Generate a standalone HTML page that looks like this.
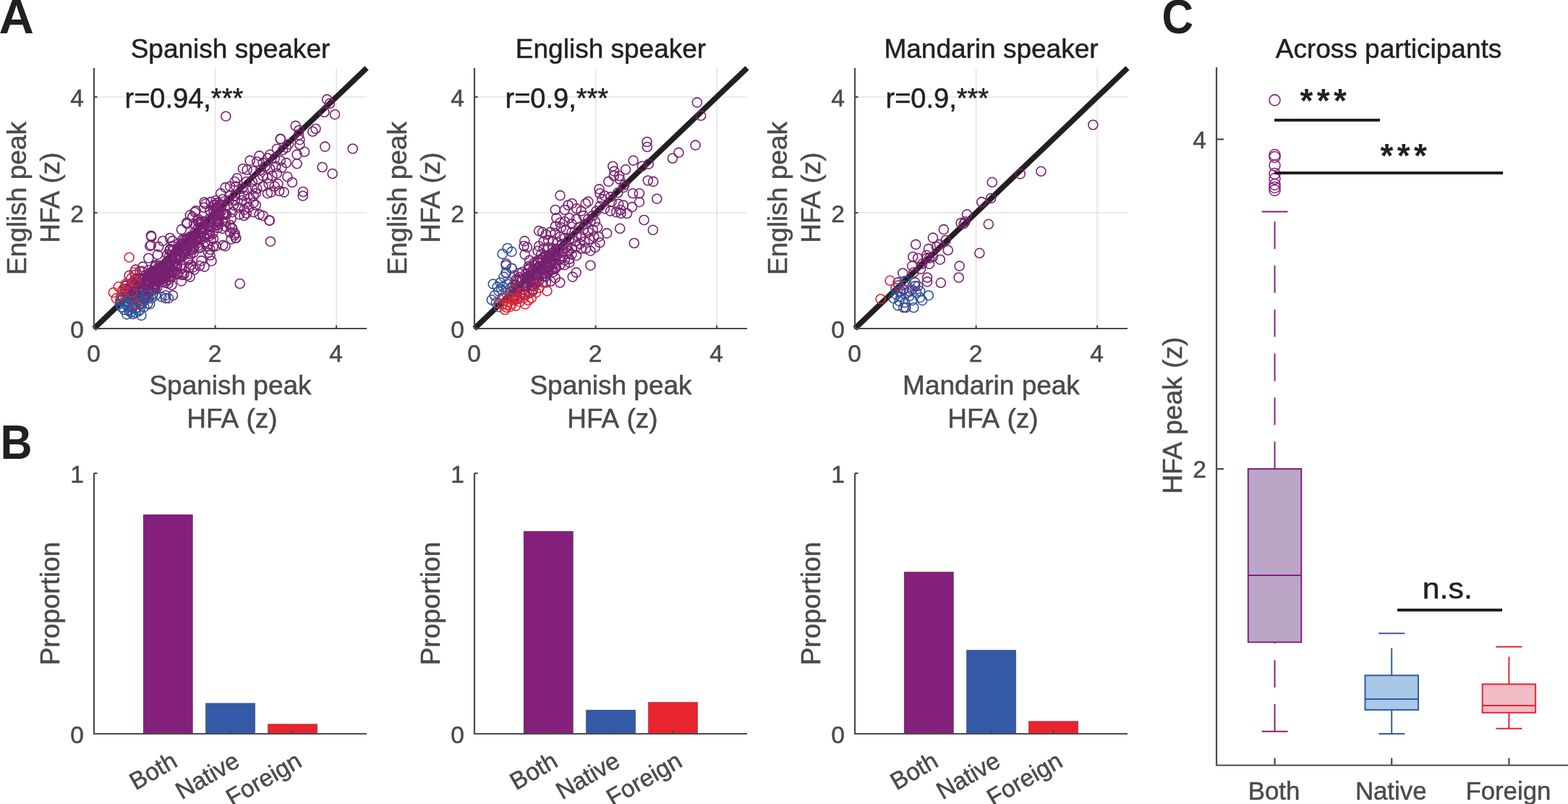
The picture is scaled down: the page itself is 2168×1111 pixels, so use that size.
<!DOCTYPE html>
<html><head><meta charset="utf-8"><title>Figure</title>
<style>html,body{margin:0;padding:0;background:#fff;overflow:hidden}svg{display:block}</style>
</head><body>
<svg width="2168" height="1111" viewBox="0 0 2168 1111" font-family="'Liberation Sans', Arial, Helvetica, sans-serif">
<rect width="2168" height="1111" fill="#fff"/>
<line x1="297.6" y1="94" x2="297.6" y2="454" stroke="#e4e4e4" stroke-width="1.6"/>
<line x1="130" y1="294.0" x2="507" y2="294.0" stroke="#e4e4e4" stroke-width="1.6"/>
<line x1="465.1" y1="94" x2="465.1" y2="454" stroke="#e4e4e4" stroke-width="1.6"/>
<line x1="130" y1="134.0" x2="507" y2="134.0" stroke="#e4e4e4" stroke-width="1.6"/>
<line x1="130" y1="454" x2="507" y2="94" stroke="#231f20" stroke-width="7.6"/>
<g fill="none" stroke="#782170" stroke-width="1.6"><circle cx="245.0" cy="367.5" r="6.5"/><circle cx="253.5" cy="352.6" r="6.5"/><circle cx="205.7" cy="411.1" r="6.5"/><circle cx="288.1" cy="349.1" r="6.5"/><circle cx="267.4" cy="334.5" r="6.5"/><circle cx="253.6" cy="349.7" r="6.5"/><circle cx="173.9" cy="395.3" r="6.5"/><circle cx="238.5" cy="339.8" r="6.5"/><circle cx="262.6" cy="382.6" r="6.5"/><circle cx="222.1" cy="373.9" r="6.5"/><circle cx="282.6" cy="326.9" r="6.5"/><circle cx="184.8" cy="422.6" r="6.5"/><circle cx="319.8" cy="302.0" r="6.5"/><circle cx="289.4" cy="323.4" r="6.5"/><circle cx="198.1" cy="401.1" r="6.5"/><circle cx="277.2" cy="310.4" r="6.5"/><circle cx="214.9" cy="395.1" r="6.5"/><circle cx="198.9" cy="399.0" r="6.5"/><circle cx="210.4" cy="397.8" r="6.5"/><circle cx="206.4" cy="391.3" r="6.5"/><circle cx="228.8" cy="384.1" r="6.5"/><circle cx="209.2" cy="376.6" r="6.5"/><circle cx="211.7" cy="405.8" r="6.5"/><circle cx="204.9" cy="388.8" r="6.5"/><circle cx="254.3" cy="379.2" r="6.5"/><circle cx="216.4" cy="379.3" r="6.5"/><circle cx="267.8" cy="342.7" r="6.5"/><circle cx="174.6" cy="394.2" r="6.5"/><circle cx="264.1" cy="344.3" r="6.5"/><circle cx="180.3" cy="409.2" r="6.5"/><circle cx="199.3" cy="389.6" r="6.5"/><circle cx="273.0" cy="330.4" r="6.5"/><circle cx="169.9" cy="412.7" r="6.5"/><circle cx="172.4" cy="399.1" r="6.5"/><circle cx="182.5" cy="409.3" r="6.5"/><circle cx="234.1" cy="386.4" r="6.5"/><circle cx="252.4" cy="330.9" r="6.5"/><circle cx="204.3" cy="419.6" r="6.5"/><circle cx="271.4" cy="327.8" r="6.5"/><circle cx="200.8" cy="412.9" r="6.5"/><circle cx="237.7" cy="355.6" r="6.5"/><circle cx="214.7" cy="375.4" r="6.5"/><circle cx="212.6" cy="400.5" r="6.5"/><circle cx="228.4" cy="373.9" r="6.5"/><circle cx="289.8" cy="302.2" r="6.5"/><circle cx="200.0" cy="409.3" r="6.5"/><circle cx="212.1" cy="374.0" r="6.5"/><circle cx="200.2" cy="384.1" r="6.5"/><circle cx="311.5" cy="295.5" r="6.5"/><circle cx="289.3" cy="308.5" r="6.5"/><circle cx="224.6" cy="380.1" r="6.5"/><circle cx="240.5" cy="362.9" r="6.5"/><circle cx="191.2" cy="393.5" r="6.5"/><circle cx="266.4" cy="325.7" r="6.5"/><circle cx="178.7" cy="413.3" r="6.5"/><circle cx="209.9" cy="381.0" r="6.5"/><circle cx="307.6" cy="315.9" r="6.5"/><circle cx="182.1" cy="391.0" r="6.5"/><circle cx="234.9" cy="380.9" r="6.5"/><circle cx="300.4" cy="297.4" r="6.5"/><circle cx="300.9" cy="315.0" r="6.5"/><circle cx="244.2" cy="356.4" r="6.5"/><circle cx="283.9" cy="305.7" r="6.5"/><circle cx="187.2" cy="385.6" r="6.5"/><circle cx="310.3" cy="296.5" r="6.5"/><circle cx="210.3" cy="375.4" r="6.5"/><circle cx="224.1" cy="389.7" r="6.5"/><circle cx="214.9" cy="398.0" r="6.5"/><circle cx="247.0" cy="336.3" r="6.5"/><circle cx="267.2" cy="349.5" r="6.5"/><circle cx="252.4" cy="345.3" r="6.5"/><circle cx="264.2" cy="366.0" r="6.5"/><circle cx="222.8" cy="384.6" r="6.5"/><circle cx="250.1" cy="356.0" r="6.5"/><circle cx="301.8" cy="302.0" r="6.5"/><circle cx="200.9" cy="390.0" r="6.5"/><circle cx="238.5" cy="377.4" r="6.5"/><circle cx="198.1" cy="397.2" r="6.5"/><circle cx="247.2" cy="341.9" r="6.5"/><circle cx="256.6" cy="348.7" r="6.5"/><circle cx="266.6" cy="345.1" r="6.5"/><circle cx="287.0" cy="313.6" r="6.5"/><circle cx="299.2" cy="291.6" r="6.5"/><circle cx="302.6" cy="302.1" r="6.5"/><circle cx="215.1" cy="388.6" r="6.5"/><circle cx="278.4" cy="306.1" r="6.5"/><circle cx="170.3" cy="410.6" r="6.5"/><circle cx="296.2" cy="283.7" r="6.5"/><circle cx="248.4" cy="352.7" r="6.5"/><circle cx="185.2" cy="393.7" r="6.5"/><circle cx="258.7" cy="344.9" r="6.5"/><circle cx="320.5" cy="315.1" r="6.5"/><circle cx="215.7" cy="366.7" r="6.5"/><circle cx="250.0" cy="341.4" r="6.5"/><circle cx="200.5" cy="394.1" r="6.5"/><circle cx="204.5" cy="388.9" r="6.5"/><circle cx="254.5" cy="332.0" r="6.5"/><circle cx="295.0" cy="330.0" r="6.5"/><circle cx="279.5" cy="321.2" r="6.5"/><circle cx="231.6" cy="379.0" r="6.5"/><circle cx="273.2" cy="331.6" r="6.5"/><circle cx="260.0" cy="330.6" r="6.5"/><circle cx="260.1" cy="359.5" r="6.5"/><circle cx="297.9" cy="288.4" r="6.5"/><circle cx="218.7" cy="386.7" r="6.5"/><circle cx="235.9" cy="362.2" r="6.5"/><circle cx="260.4" cy="356.9" r="6.5"/><circle cx="274.6" cy="307.7" r="6.5"/><circle cx="192.9" cy="410.4" r="6.5"/><circle cx="199.9" cy="392.0" r="6.5"/><circle cx="295.1" cy="289.5" r="6.5"/><circle cx="220.3" cy="367.0" r="6.5"/><circle cx="217.6" cy="378.6" r="6.5"/><circle cx="222.7" cy="387.1" r="6.5"/><circle cx="294.6" cy="340.8" r="6.5"/><circle cx="184.1" cy="396.1" r="6.5"/><circle cx="291.6" cy="279.1" r="6.5"/><circle cx="287.1" cy="339.9" r="6.5"/><circle cx="252.1" cy="336.7" r="6.5"/><circle cx="203.2" cy="385.7" r="6.5"/><circle cx="234.0" cy="353.9" r="6.5"/><circle cx="254.8" cy="347.8" r="6.5"/><circle cx="291.8" cy="332.4" r="6.5"/><circle cx="220.5" cy="369.6" r="6.5"/><circle cx="256.3" cy="343.7" r="6.5"/><circle cx="187.3" cy="405.3" r="6.5"/><circle cx="259.4" cy="335.5" r="6.5"/><circle cx="181.0" cy="394.8" r="6.5"/><circle cx="233.4" cy="367.7" r="6.5"/><circle cx="189.4" cy="412.2" r="6.5"/><circle cx="277.9" cy="314.2" r="6.5"/><circle cx="268.0" cy="309.3" r="6.5"/><circle cx="216.0" cy="380.0" r="6.5"/><circle cx="251.2" cy="370.9" r="6.5"/><circle cx="181.8" cy="397.9" r="6.5"/><circle cx="269.7" cy="331.9" r="6.5"/><circle cx="214.4" cy="392.3" r="6.5"/><circle cx="214.2" cy="368.7" r="6.5"/><circle cx="222.4" cy="370.3" r="6.5"/><circle cx="300.1" cy="306.8" r="6.5"/><circle cx="232.6" cy="391.8" r="6.5"/><circle cx="210.6" cy="377.1" r="6.5"/><circle cx="238.7" cy="365.7" r="6.5"/><circle cx="286.5" cy="324.6" r="6.5"/><circle cx="205.7" cy="398.3" r="6.5"/><circle cx="173.4" cy="403.1" r="6.5"/><circle cx="273.2" cy="304.9" r="6.5"/><circle cx="183.6" cy="408.3" r="6.5"/><circle cx="201.9" cy="407.7" r="6.5"/><circle cx="272.7" cy="332.6" r="6.5"/><circle cx="241.1" cy="377.4" r="6.5"/><circle cx="238.7" cy="355.9" r="6.5"/><circle cx="301.5" cy="311.0" r="6.5"/><circle cx="248.5" cy="355.3" r="6.5"/><circle cx="225.3" cy="369.8" r="6.5"/><circle cx="234.6" cy="367.6" r="6.5"/><circle cx="198.0" cy="412.2" r="6.5"/><circle cx="290.6" cy="325.7" r="6.5"/><circle cx="188.6" cy="409.9" r="6.5"/><circle cx="205.9" cy="382.0" r="6.5"/><circle cx="214.1" cy="393.2" r="6.5"/><circle cx="221.3" cy="382.2" r="6.5"/><circle cx="282.2" cy="286.8" r="6.5"/><circle cx="261.6" cy="370.1" r="6.5"/><circle cx="277.1" cy="308.1" r="6.5"/><circle cx="274.7" cy="341.9" r="6.5"/><circle cx="277.8" cy="328.0" r="6.5"/><circle cx="225.5" cy="383.2" r="6.5"/><circle cx="226.1" cy="385.1" r="6.5"/><circle cx="182.9" cy="425.7" r="6.5"/><circle cx="188.9" cy="404.5" r="6.5"/><circle cx="251.0" cy="365.8" r="6.5"/><circle cx="291.9" cy="314.0" r="6.5"/><circle cx="301.4" cy="306.1" r="6.5"/><circle cx="263.4" cy="351.0" r="6.5"/><circle cx="227.4" cy="380.5" r="6.5"/><circle cx="238.5" cy="346.7" r="6.5"/><circle cx="178.6" cy="380.8" r="6.5"/><circle cx="178.3" cy="413.1" r="6.5"/><circle cx="276.0" cy="367.3" r="6.5"/><circle cx="279.7" cy="313.4" r="6.5"/><circle cx="230.3" cy="363.8" r="6.5"/><circle cx="233.5" cy="364.1" r="6.5"/><circle cx="283.5" cy="334.8" r="6.5"/><circle cx="275.8" cy="328.3" r="6.5"/><circle cx="189.8" cy="395.6" r="6.5"/><circle cx="205.1" cy="400.3" r="6.5"/><circle cx="195.1" cy="403.9" r="6.5"/><circle cx="238.5" cy="372.5" r="6.5"/><circle cx="243.4" cy="358.0" r="6.5"/><circle cx="230.2" cy="365.6" r="6.5"/><circle cx="244.2" cy="378.5" r="6.5"/><circle cx="273.5" cy="339.7" r="6.5"/><circle cx="232.1" cy="376.2" r="6.5"/><circle cx="205.8" cy="404.2" r="6.5"/><circle cx="236.9" cy="375.0" r="6.5"/><circle cx="268.3" cy="341.2" r="6.5"/><circle cx="246.3" cy="378.9" r="6.5"/><circle cx="188.5" cy="389.3" r="6.5"/><circle cx="266.8" cy="369.4" r="6.5"/><circle cx="198.8" cy="389.7" r="6.5"/><circle cx="212.3" cy="388.4" r="6.5"/><circle cx="256.9" cy="351.4" r="6.5"/><circle cx="257.4" cy="331.9" r="6.5"/><circle cx="230.3" cy="368.3" r="6.5"/><circle cx="212.8" cy="392.1" r="6.5"/><circle cx="249.6" cy="339.1" r="6.5"/><circle cx="253.2" cy="344.0" r="6.5"/><circle cx="276.5" cy="342.7" r="6.5"/><circle cx="231.5" cy="351.6" r="6.5"/><circle cx="217.9" cy="351.9" r="6.5"/><circle cx="238.7" cy="332.9" r="6.5"/><circle cx="213.9" cy="378.2" r="6.5"/><circle cx="276.5" cy="320.5" r="6.5"/><circle cx="189.6" cy="391.5" r="6.5"/><circle cx="181.6" cy="402.6" r="6.5"/><circle cx="221.8" cy="375.9" r="6.5"/><circle cx="193.3" cy="374.8" r="6.5"/><circle cx="201.6" cy="406.1" r="6.5"/><circle cx="308.2" cy="295.9" r="6.5"/><circle cx="229.4" cy="388.1" r="6.5"/><circle cx="230.2" cy="364.0" r="6.5"/><circle cx="184.5" cy="404.2" r="6.5"/><circle cx="244.5" cy="345.8" r="6.5"/><circle cx="299.4" cy="310.4" r="6.5"/><circle cx="252.0" cy="380.0" r="6.5"/><circle cx="217.3" cy="389.6" r="6.5"/><circle cx="183.2" cy="409.3" r="6.5"/><circle cx="262.3" cy="327.3" r="6.5"/><circle cx="242.2" cy="358.5" r="6.5"/><circle cx="277.8" cy="327.8" r="6.5"/><circle cx="233.3" cy="378.3" r="6.5"/><circle cx="217.3" cy="397.6" r="6.5"/><circle cx="237.4" cy="393.8" r="6.5"/><circle cx="235.9" cy="358.2" r="6.5"/><circle cx="264.4" cy="335.9" r="6.5"/><circle cx="189.5" cy="405.6" r="6.5"/><circle cx="228.2" cy="380.7" r="6.5"/><circle cx="300.6" cy="280.5" r="6.5"/><circle cx="235.4" cy="344.4" r="6.5"/><circle cx="225.7" cy="375.2" r="6.5"/><circle cx="273.8" cy="335.4" r="6.5"/><circle cx="277.7" cy="315.9" r="6.5"/><circle cx="216.6" cy="383.4" r="6.5"/><circle cx="234.4" cy="346.0" r="6.5"/><circle cx="212.0" cy="400.2" r="6.5"/><circle cx="241.6" cy="355.1" r="6.5"/><circle cx="180.3" cy="398.2" r="6.5"/><circle cx="290.1" cy="319.4" r="6.5"/><circle cx="177.1" cy="404.6" r="6.5"/><circle cx="228.5" cy="390.6" r="6.5"/><circle cx="212.0" cy="395.6" r="6.5"/><circle cx="186.5" cy="401.7" r="6.5"/><circle cx="297.0" cy="282.9" r="6.5"/><circle cx="300.7" cy="280.8" r="6.5"/><circle cx="187.0" cy="413.3" r="6.5"/><circle cx="230.0" cy="363.0" r="6.5"/><circle cx="204.9" cy="381.4" r="6.5"/><circle cx="236.8" cy="380.1" r="6.5"/><circle cx="183.0" cy="408.4" r="6.5"/><circle cx="228.3" cy="381.3" r="6.5"/><circle cx="290.3" cy="291.6" r="6.5"/><circle cx="234.3" cy="366.5" r="6.5"/><circle cx="208.3" cy="392.6" r="6.5"/><circle cx="208.6" cy="382.2" r="6.5"/><circle cx="292.7" cy="305.9" r="6.5"/><circle cx="271.6" cy="328.9" r="6.5"/><circle cx="196.1" cy="374.9" r="6.5"/><circle cx="273.2" cy="322.8" r="6.5"/><circle cx="300.0" cy="305.2" r="6.5"/><circle cx="299.4" cy="297.8" r="6.5"/><circle cx="190.2" cy="394.0" r="6.5"/><circle cx="245.9" cy="345.1" r="6.5"/><circle cx="183.5" cy="407.9" r="6.5"/><circle cx="217.3" cy="372.5" r="6.5"/><circle cx="267.4" cy="330.1" r="6.5"/><circle cx="202.0" cy="389.6" r="6.5"/><circle cx="235.2" cy="369.5" r="6.5"/><circle cx="219.8" cy="378.1" r="6.5"/><circle cx="169.8" cy="400.8" r="6.5"/><circle cx="295.7" cy="292.4" r="6.5"/><circle cx="193.7" cy="384.3" r="6.5"/><circle cx="291.7" cy="306.8" r="6.5"/><circle cx="243.7" cy="367.5" r="6.5"/><circle cx="224.3" cy="371.6" r="6.5"/><circle cx="241.9" cy="366.9" r="6.5"/><circle cx="210.4" cy="378.2" r="6.5"/><circle cx="193.8" cy="396.1" r="6.5"/><circle cx="269.2" cy="321.5" r="6.5"/><circle cx="196.9" cy="413.3" r="6.5"/><circle cx="257.0" cy="338.1" r="6.5"/><circle cx="187.5" cy="420.7" r="6.5"/><circle cx="220.6" cy="382.5" r="6.5"/><circle cx="237.0" cy="383.2" r="6.5"/><circle cx="258.5" cy="329.5" r="6.5"/><circle cx="219.3" cy="387.4" r="6.5"/><circle cx="308.0" cy="306.3" r="6.5"/><circle cx="224.3" cy="380.7" r="6.5"/><circle cx="201.4" cy="390.0" r="6.5"/><circle cx="177.5" cy="408.4" r="6.5"/><circle cx="234.9" cy="345.1" r="6.5"/><circle cx="304.8" cy="282.4" r="6.5"/><circle cx="213.7" cy="375.9" r="6.5"/><circle cx="192.5" cy="384.9" r="6.5"/><circle cx="225.1" cy="372.2" r="6.5"/><circle cx="211.0" cy="381.5" r="6.5"/><circle cx="250.6" cy="353.5" r="6.5"/><circle cx="201.2" cy="405.7" r="6.5"/><circle cx="294.1" cy="322.8" r="6.5"/><circle cx="298.1" cy="304.4" r="6.5"/><circle cx="281.8" cy="317.7" r="6.5"/><circle cx="273.0" cy="316.5" r="6.5"/><circle cx="248.4" cy="345.7" r="6.5"/><circle cx="192.3" cy="397.9" r="6.5"/><circle cx="186.9" cy="379.8" r="6.5"/><circle cx="302.6" cy="295.3" r="6.5"/><circle cx="278.4" cy="360.4" r="6.5"/><circle cx="188.5" cy="409.1" r="6.5"/><circle cx="221.1" cy="382.9" r="6.5"/><circle cx="215.2" cy="366.4" r="6.5"/><circle cx="228.0" cy="377.7" r="6.5"/><circle cx="205.5" cy="373.3" r="6.5"/><circle cx="303.1" cy="294.3" r="6.5"/><circle cx="288.3" cy="316.8" r="6.5"/><circle cx="299.9" cy="296.3" r="6.5"/><circle cx="218.6" cy="371.4" r="6.5"/><circle cx="267.0" cy="335.8" r="6.5"/><circle cx="231.0" cy="371.6" r="6.5"/><circle cx="302.5" cy="308.4" r="6.5"/><circle cx="200.0" cy="381.5" r="6.5"/><circle cx="209.3" cy="327.0" r="6.5"/><circle cx="207.3" cy="339.9" r="6.5"/><circle cx="205.3" cy="356.7" r="6.5"/><circle cx="197.4" cy="368.6" r="6.5"/><circle cx="187.5" cy="372.6" r="6.5"/><circle cx="219.2" cy="340.9" r="6.5"/><circle cx="225.1" cy="333.0" r="6.5"/><circle cx="235.0" cy="329.0" r="6.5"/><circle cx="250.9" cy="317.1" r="6.5"/><circle cx="258.8" cy="309.2" r="6.5"/><circle cx="262.8" cy="297.3" r="6.5"/><circle cx="270.7" cy="291.4" r="6.5"/><circle cx="282.6" cy="279.5" r="6.5"/><circle cx="312.3" cy="313.2" r="6.5"/><circle cx="318.2" cy="321.1" r="6.5"/><circle cx="326.1" cy="329.0" r="6.5"/><circle cx="324.2" cy="325.0" r="6.5"/><circle cx="308.3" cy="338.9" r="6.5"/><circle cx="290.5" cy="352.8" r="6.5"/><circle cx="292.5" cy="360.7" r="6.5"/><circle cx="282.6" cy="368.6" r="6.5"/><circle cx="268.7" cy="372.6" r="6.5"/><circle cx="258.8" cy="380.5" r="6.5"/><circle cx="250.9" cy="388.4" r="6.5"/><circle cx="239.0" cy="408.2" r="6.5"/><circle cx="229.1" cy="412.2" r="6.5"/><circle cx="387.8" cy="191.9" r="6.5"/><circle cx="399.1" cy="199.2" r="6.5"/><circle cx="395.9" cy="204.0" r="6.5"/><circle cx="391.0" cy="207.3" r="6.5"/><circle cx="382.9" cy="205.7" r="6.5"/><circle cx="373.2" cy="213.8" r="6.5"/><circle cx="358.6" cy="215.4" r="6.5"/><circle cx="345.6" cy="221.9" r="6.5"/><circle cx="355.3" cy="223.5" r="6.5"/><circle cx="363.5" cy="225.1" r="6.5"/><circle cx="369.9" cy="218.6" r="6.5"/><circle cx="379.7" cy="218.6" r="6.5"/><circle cx="387.8" cy="221.9" r="6.5"/><circle cx="395.9" cy="225.1" r="6.5"/><circle cx="389.4" cy="231.6" r="6.5"/><circle cx="381.3" cy="230.0" r="6.5"/><circle cx="373.2" cy="233.2" r="6.5"/><circle cx="366.7" cy="230.0" r="6.5"/><circle cx="360.2" cy="234.8" r="6.5"/><circle cx="350.5" cy="236.5" r="6.5"/><circle cx="335.9" cy="233.2" r="6.5"/><circle cx="341.6" cy="234.8" r="6.5"/><circle cx="382.9" cy="239.7" r="6.5"/><circle cx="376.4" cy="242.9" r="6.5"/><circle cx="369.9" cy="246.2" r="6.5"/><circle cx="363.5" cy="242.9" r="6.5"/><circle cx="357.0" cy="247.8" r="6.5"/><circle cx="348.9" cy="251.0" r="6.5"/><circle cx="340.8" cy="251.0" r="6.5"/><circle cx="327.8" cy="246.2" r="6.5"/><circle cx="324.6" cy="251.0" r="6.5"/><circle cx="318.1" cy="257.5" r="6.5"/><circle cx="311.6" cy="259.1" r="6.5"/><circle cx="326.2" cy="257.5" r="6.5"/><circle cx="334.3" cy="260.8" r="6.5"/><circle cx="340.8" cy="262.4" r="6.5"/><circle cx="348.9" cy="260.8" r="6.5"/><circle cx="355.3" cy="260.8" r="6.5"/><circle cx="363.5" cy="257.5" r="6.5"/><circle cx="371.6" cy="254.3" r="6.5"/><circle cx="379.7" cy="257.5" r="6.5"/><circle cx="384.5" cy="254.3" r="6.5"/><circle cx="386.1" cy="264.0" r="6.5"/><circle cx="392.6" cy="265.6" r="6.5"/><circle cx="374.8" cy="265.6" r="6.5"/><circle cx="369.9" cy="267.2" r="6.5"/><circle cx="353.7" cy="267.2" r="6.5"/><circle cx="350.5" cy="270.5" r="6.5"/><circle cx="345.6" cy="273.7" r="6.5"/><circle cx="337.5" cy="270.5" r="6.5"/><circle cx="331.0" cy="268.9" r="6.5"/><circle cx="324.6" cy="270.5" r="6.5"/><circle cx="318.1" cy="270.5" r="6.5"/><circle cx="305.1" cy="267.2" r="6.5"/><circle cx="298.6" cy="277.0" r="6.5"/><circle cx="308.3" cy="275.3" r="6.5"/><circle cx="316.5" cy="277.0" r="6.5"/><circle cx="324.6" cy="277.0" r="6.5"/><circle cx="334.3" cy="277.0" r="6.5"/><circle cx="340.8" cy="280.2" r="6.5"/><circle cx="350.5" cy="280.2" r="6.5"/><circle cx="353.7" cy="283.5" r="6.5"/><circle cx="344.0" cy="286.7" r="6.5"/><circle cx="337.5" cy="289.9" r="6.5"/><circle cx="329.4" cy="286.7" r="6.5"/><circle cx="322.9" cy="283.5" r="6.5"/><circle cx="314.8" cy="283.5" r="6.5"/><circle cx="306.7" cy="283.5" r="6.5"/><circle cx="298.6" cy="286.7" r="6.5"/><circle cx="284.0" cy="281.8" r="6.5"/><circle cx="290.5" cy="291.6" r="6.5"/><circle cx="298.6" cy="293.2" r="6.5"/><circle cx="305.1" cy="293.2" r="6.5"/><circle cx="313.2" cy="296.4" r="6.5"/><circle cx="321.3" cy="293.2" r="6.5"/><circle cx="331.0" cy="296.4" r="6.5"/><circle cx="337.5" cy="298.0" r="6.5"/><circle cx="340.8" cy="294.8" r="6.5"/><circle cx="350.5" cy="293.2" r="6.5"/><circle cx="358.6" cy="296.4" r="6.5"/><circle cx="363.5" cy="298.0" r="6.5"/><circle cx="311.6" cy="306.1" r="6.5"/><circle cx="318.1" cy="311.0" r="6.5"/><circle cx="321.3" cy="315.9" r="6.5"/><circle cx="324.6" cy="322.4" r="6.5"/><circle cx="326.2" cy="328.8" r="6.5"/><circle cx="319.7" cy="330.5" r="6.5"/><circle cx="311.6" cy="340.2" r="6.5"/><circle cx="298.6" cy="340.2" r="6.5"/><circle cx="290.5" cy="345.0" r="6.5"/><circle cx="269.4" cy="293.2" r="6.5"/><circle cx="266.2" cy="299.7" r="6.5"/><circle cx="258.1" cy="307.8" r="6.5"/><circle cx="274.3" cy="302.9" r="6.5"/><circle cx="312.3" cy="160.7" r="6.5"/><circle cx="452.2" cy="137.4" r="6.5"/><circle cx="456.0" cy="143.0" r="6.5"/><circle cx="448.4" cy="155.0" r="6.5"/><circle cx="463.0" cy="158.2" r="6.5"/><circle cx="408.7" cy="173.9" r="6.5"/><circle cx="413.4" cy="180.0" r="6.5"/><circle cx="413.0" cy="186.6" r="6.5"/><circle cx="414.4" cy="193.2" r="6.5"/><circle cx="432.3" cy="181.8" r="6.5"/><circle cx="436.5" cy="178.0" r="6.5"/><circle cx="449.3" cy="202.6" r="6.5"/><circle cx="487.7" cy="205.5" r="6.5"/><circle cx="387.9" cy="192.2" r="6.5"/><circle cx="414.4" cy="199.8" r="6.5"/><circle cx="421.0" cy="209.8" r="6.5"/><circle cx="410.6" cy="213.6" r="6.5"/><circle cx="410.6" cy="226.3" r="6.5"/><circle cx="445.6" cy="231.0" r="6.5"/><circle cx="459.7" cy="240.0" r="6.5"/><circle cx="419.0" cy="265.0" r="6.5"/><circle cx="418.7" cy="270.7" r="6.5"/><circle cx="404.0" cy="252.0" r="6.5"/><circle cx="397.4" cy="244.2" r="6.5"/><circle cx="372.8" cy="304.7" r="6.5"/><circle cx="331.7" cy="392.0" r="6.5"/><circle cx="373.9" cy="333.7" r="6.5"/><circle cx="372.3" cy="304.6" r="6.5"/><circle cx="208.9" cy="325.7" r="6.5"/><circle cx="208.9" cy="338.6" r="6.5"/></g>
<g fill="none" stroke="#2f5399" stroke-width="1.6"><circle cx="167.7" cy="414.2" r="6.5"/><circle cx="173.7" cy="420.1" r="6.5"/><circle cx="179.6" cy="428.0" r="6.5"/><circle cx="187.5" cy="432.0" r="6.5"/><circle cx="193.5" cy="428.0" r="6.5"/><circle cx="171.7" cy="428.0" r="6.5"/><circle cx="199.4" cy="424.1" r="6.5"/><circle cx="209.3" cy="412.2" r="6.5"/><circle cx="215.2" cy="408.2" r="6.5"/><circle cx="223.2" cy="410.2" r="6.5"/><circle cx="229.1" cy="408.2" r="6.5"/><circle cx="233.1" cy="412.2" r="6.5"/><circle cx="185.5" cy="416.1" r="6.5"/><circle cx="199.4" cy="416.1" r="6.5"/><circle cx="179.6" cy="412.2" r="6.5"/><circle cx="191.5" cy="414.2" r="6.5"/><circle cx="203.4" cy="408.2" r="6.5"/><circle cx="177.6" cy="420.1" r="6.5"/><circle cx="183.6" cy="434.0" r="6.5"/><circle cx="165.7" cy="420.1" r="6.5"/><circle cx="195.4" cy="420.1" r="6.5"/><circle cx="207.3" cy="420.1" r="6.5"/><circle cx="189.5" cy="406.2" r="6.5"/><circle cx="175.6" cy="416.1" r="6.5"/><circle cx="181.6" cy="424.1" r="6.5"/><circle cx="191.5" cy="430.0" r="6.5"/><circle cx="193.4" cy="420.3" r="6.5"/><circle cx="168.0" cy="424.3" r="6.5"/><circle cx="188.3" cy="426.2" r="6.5"/><circle cx="175.4" cy="434.4" r="6.5"/><circle cx="195.4" cy="435.9" r="6.5"/><circle cx="181.1" cy="431.7" r="6.5"/><circle cx="190.6" cy="414.6" r="6.5"/><circle cx="166.9" cy="414.4" r="6.5"/><circle cx="170.0" cy="411.9" r="6.5"/><circle cx="178.2" cy="429.6" r="6.5"/><circle cx="176.5" cy="423.4" r="6.5"/><circle cx="166.4" cy="415.5" r="6.5"/></g>
<g fill="none" stroke="#dc2530" stroke-width="1.6"><circle cx="178.6" cy="355.7" r="6.5"/><circle cx="156.8" cy="404.3" r="6.5"/><circle cx="163.8" cy="396.3" r="6.5"/><circle cx="169.7" cy="400.3" r="6.5"/><circle cx="185.5" cy="376.5" r="6.5"/><circle cx="187.5" cy="388.4" r="6.5"/><circle cx="182.6" cy="404.3" r="6.5"/><circle cx="188.5" cy="421.1" r="6.5"/><circle cx="181.6" cy="384.5" r="6.5"/><circle cx="173.7" cy="392.4" r="6.5"/><circle cx="160.8" cy="412.2" r="6.5"/><circle cx="167.7" cy="408.2" r="6.5"/></g>
<path d="M130 94V454H507" fill="none" stroke="#4a4a4a" stroke-width="2.2"/>
<line x1="130.0" y1="454" x2="130.0" y2="449.5" stroke="#4a4a4a" stroke-width="2.2"/>
<line x1="130" y1="454.0" x2="134.5" y2="454.0" stroke="#4a4a4a" stroke-width="2.2"/>
<text x="129.5" y="499.7" font-size="33.5" fill="#4a4a4a" stroke="#4a4a4a" stroke-width="0.5" text-anchor="middle">0</text>
<text x="116" y="466.5" font-size="33.5" fill="#4a4a4a" stroke="#4a4a4a" stroke-width="0.5" text-anchor="end">0</text>
<line x1="297.6" y1="454" x2="297.6" y2="449.5" stroke="#4a4a4a" stroke-width="2.2"/>
<line x1="130" y1="294.0" x2="134.5" y2="294.0" stroke="#4a4a4a" stroke-width="2.2"/>
<text x="297.1" y="499.7" font-size="33.5" fill="#4a4a4a" stroke="#4a4a4a" stroke-width="0.5" text-anchor="middle">2</text>
<text x="116" y="306.5" font-size="33.5" fill="#4a4a4a" stroke="#4a4a4a" stroke-width="0.5" text-anchor="end">2</text>
<line x1="465.1" y1="454" x2="465.1" y2="449.5" stroke="#4a4a4a" stroke-width="2.2"/>
<line x1="130" y1="134.0" x2="134.5" y2="134.0" stroke="#4a4a4a" stroke-width="2.2"/>
<text x="464.6" y="499.7" font-size="33.5" fill="#4a4a4a" stroke="#4a4a4a" stroke-width="0.5" text-anchor="middle">4</text>
<text x="116" y="146.5" font-size="33.5" fill="#4a4a4a" stroke="#4a4a4a" stroke-width="0.5" text-anchor="end">4</text>
<text x="318.5" y="80.4" font-size="37" fill="#231f20" stroke="#231f20" stroke-width="0.5" text-anchor="middle">Spanish speaker</text>
<text x="318.5" y="545.2" font-size="37" fill="#4a4a4a" stroke="#4a4a4a" stroke-width="0.5" text-anchor="middle">Spanish peak</text>
<text x="321.0" y="591" font-size="37" fill="#4a4a4a" stroke="#4a4a4a" stroke-width="0.5" text-anchor="middle" word-spacing="2">HFA (z)</text>
<text x="36" y="274.0" font-size="37" fill="#4a4a4a" stroke="#4a4a4a" stroke-width="0.5" text-anchor="middle" transform="rotate(-90 36 274.0)">English peak</text>
<text x="82" y="273.0" font-size="37" fill="#4a4a4a" stroke="#4a4a4a" stroke-width="0.5" text-anchor="middle" transform="rotate(-90 82 273.0)" word-spacing="2">HFA (z)</text>
<text x="172.5" y="148.7" font-size="38" fill="#231f20" stroke="#231f20" stroke-width="0.5" text-anchor="start">r=0.94,***</text>
<line x1="823.6" y1="94" x2="823.6" y2="454" stroke="#e4e4e4" stroke-width="1.6"/>
<line x1="656" y1="294.0" x2="1033" y2="294.0" stroke="#e4e4e4" stroke-width="1.6"/>
<line x1="991.1" y1="94" x2="991.1" y2="454" stroke="#e4e4e4" stroke-width="1.6"/>
<line x1="656" y1="134.0" x2="1033" y2="134.0" stroke="#e4e4e4" stroke-width="1.6"/>
<line x1="656" y1="454" x2="1033" y2="94" stroke="#231f20" stroke-width="7.6"/>
<g fill="none" stroke="#782170" stroke-width="1.6"><circle cx="736.7" cy="400.0" r="6.5"/><circle cx="709.3" cy="412.0" r="6.5"/><circle cx="764.9" cy="355.3" r="6.5"/><circle cx="734.0" cy="388.2" r="6.5"/><circle cx="733.6" cy="386.7" r="6.5"/><circle cx="725.7" cy="408.3" r="6.5"/><circle cx="768.2" cy="352.1" r="6.5"/><circle cx="750.3" cy="390.1" r="6.5"/><circle cx="732.2" cy="369.9" r="6.5"/><circle cx="746.2" cy="367.7" r="6.5"/><circle cx="718.8" cy="406.3" r="6.5"/><circle cx="769.4" cy="343.8" r="6.5"/><circle cx="765.0" cy="349.4" r="6.5"/><circle cx="713.6" cy="386.4" r="6.5"/><circle cx="759.2" cy="352.2" r="6.5"/><circle cx="757.8" cy="375.9" r="6.5"/><circle cx="710.5" cy="402.8" r="6.5"/><circle cx="741.7" cy="388.9" r="6.5"/><circle cx="755.3" cy="381.4" r="6.5"/><circle cx="741.1" cy="383.1" r="6.5"/><circle cx="785.7" cy="347.3" r="6.5"/><circle cx="728.8" cy="394.7" r="6.5"/><circle cx="723.1" cy="400.4" r="6.5"/><circle cx="731.8" cy="405.1" r="6.5"/><circle cx="719.0" cy="386.0" r="6.5"/><circle cx="766.9" cy="351.0" r="6.5"/><circle cx="757.9" cy="357.6" r="6.5"/><circle cx="763.9" cy="349.6" r="6.5"/><circle cx="763.8" cy="372.8" r="6.5"/><circle cx="710.7" cy="411.2" r="6.5"/><circle cx="767.7" cy="364.2" r="6.5"/><circle cx="758.1" cy="369.4" r="6.5"/><circle cx="737.6" cy="372.0" r="6.5"/><circle cx="764.7" cy="354.0" r="6.5"/><circle cx="726.2" cy="405.7" r="6.5"/><circle cx="735.7" cy="395.2" r="6.5"/><circle cx="727.0" cy="391.3" r="6.5"/><circle cx="712.2" cy="407.5" r="6.5"/><circle cx="738.7" cy="362.7" r="6.5"/><circle cx="782.5" cy="342.2" r="6.5"/><circle cx="734.5" cy="393.6" r="6.5"/><circle cx="758.2" cy="373.0" r="6.5"/><circle cx="742.8" cy="360.6" r="6.5"/><circle cx="736.4" cy="402.1" r="6.5"/><circle cx="736.9" cy="388.1" r="6.5"/><circle cx="736.3" cy="395.1" r="6.5"/><circle cx="715.4" cy="387.6" r="6.5"/><circle cx="768.3" cy="355.5" r="6.5"/><circle cx="749.3" cy="378.2" r="6.5"/><circle cx="772.6" cy="359.4" r="6.5"/><circle cx="747.1" cy="358.8" r="6.5"/><circle cx="741.6" cy="380.2" r="6.5"/><circle cx="778.3" cy="343.5" r="6.5"/><circle cx="714.2" cy="413.6" r="6.5"/><circle cx="737.4" cy="384.6" r="6.5"/><circle cx="765.6" cy="347.7" r="6.5"/><circle cx="710.3" cy="409.4" r="6.5"/><circle cx="745.0" cy="388.0" r="6.5"/><circle cx="768.0" cy="355.9" r="6.5"/><circle cx="739.5" cy="373.6" r="6.5"/><circle cx="963.8" cy="141.6" r="6.5"/><circle cx="969.1" cy="159.8" r="6.5"/><circle cx="961.6" cy="200.6" r="6.5"/><circle cx="894.5" cy="196.0" r="6.5"/><circle cx="894.9" cy="203.0" r="6.5"/><circle cx="938.4" cy="210.9" r="6.5"/><circle cx="929.9" cy="218.8" r="6.5"/><circle cx="875.6" cy="221.8" r="6.5"/><circle cx="896.8" cy="226.7" r="6.5"/><circle cx="887.9" cy="229.7" r="6.5"/><circle cx="847.3" cy="229.7" r="6.5"/><circle cx="865.1" cy="234.3" r="6.5"/><circle cx="849.3" cy="236.6" r="6.5"/><circle cx="856.2" cy="243.0" r="6.5"/><circle cx="895.8" cy="249.5" r="6.5"/><circle cx="903.2" cy="250.9" r="6.5"/><circle cx="863.2" cy="255.4" r="6.5"/><circle cx="841.4" cy="250.9" r="6.5"/><circle cx="828.5" cy="261.4" r="6.5"/><circle cx="854.3" cy="266.3" r="6.5"/><circle cx="875.0" cy="267.3" r="6.5"/><circle cx="884.0" cy="267.3" r="6.5"/><circle cx="884.0" cy="279.2" r="6.5"/><circle cx="908.3" cy="274.7" r="6.5"/><circle cx="874.0" cy="286.1" r="6.5"/><circle cx="890.5" cy="304.0" r="6.5"/><circle cx="867.0" cy="295.0" r="6.5"/><circle cx="858.2" cy="290.0" r="6.5"/><circle cx="857.2" cy="315.8" r="6.5"/><circle cx="902.8" cy="317.8" r="6.5"/><circle cx="809.7" cy="281.2" r="6.5"/><circle cx="790.9" cy="281.2" r="6.5"/><circle cx="774.5" cy="270.1" r="6.5"/><circle cx="876.8" cy="336.0" r="6.5"/><circle cx="816.4" cy="366.7" r="6.5"/><circle cx="791.7" cy="382.6" r="6.5"/><circle cx="796.6" cy="376.6" r="6.5"/><circle cx="725.3" cy="333.1" r="6.5"/><circle cx="724.4" cy="340.0" r="6.5"/><circle cx="848.8" cy="243.0" r="6.5"/><circle cx="856.9" cy="247.8" r="6.5"/><circle cx="861.8" cy="259.2" r="6.5"/><circle cx="844.0" cy="272.1" r="6.5"/><circle cx="835.9" cy="270.5" r="6.5"/><circle cx="829.4" cy="267.3" r="6.5"/><circle cx="832.6" cy="275.4" r="6.5"/><circle cx="845.6" cy="278.6" r="6.5"/><circle cx="855.3" cy="281.9" r="6.5"/><circle cx="861.8" cy="283.5" r="6.5"/><circle cx="858.6" cy="294.8" r="6.5"/><circle cx="852.1" cy="293.2" r="6.5"/><circle cx="844.0" cy="291.6" r="6.5"/><circle cx="835.9" cy="288.3" r="6.5"/><circle cx="829.4" cy="285.1" r="6.5"/><circle cx="824.5" cy="291.6" r="6.5"/><circle cx="819.7" cy="298.1" r="6.5"/><circle cx="813.2" cy="302.9" r="6.5"/><circle cx="806.7" cy="298.1" r="6.5"/><circle cx="803.5" cy="291.6" r="6.5"/><circle cx="813.2" cy="278.6" r="6.5"/><circle cx="797.0" cy="288.3" r="6.5"/><circle cx="785.6" cy="283.5" r="6.5"/><circle cx="780.8" cy="290.0" r="6.5"/><circle cx="767.8" cy="290.0" r="6.5"/><circle cx="769.4" cy="301.3" r="6.5"/><circle cx="774.3" cy="307.8" r="6.5"/><circle cx="780.8" cy="306.2" r="6.5"/><circle cx="787.2" cy="301.3" r="6.5"/><circle cx="790.5" cy="309.4" r="6.5"/><circle cx="797.0" cy="302.9" r="6.5"/><circle cx="800.2" cy="314.3" r="6.5"/><circle cx="809.9" cy="309.4" r="6.5"/><circle cx="816.4" cy="306.2" r="6.5"/><circle cx="822.9" cy="306.2" r="6.5"/><circle cx="826.1" cy="314.3" r="6.5"/><circle cx="819.7" cy="317.5" r="6.5"/><circle cx="813.2" cy="320.8" r="6.5"/><circle cx="806.7" cy="317.5" r="6.5"/><circle cx="803.5" cy="327.2" r="6.5"/><circle cx="797.0" cy="325.6" r="6.5"/><circle cx="790.5" cy="320.8" r="6.5"/><circle cx="782.4" cy="317.5" r="6.5"/><circle cx="775.9" cy="314.3" r="6.5"/><circle cx="767.8" cy="312.7" r="6.5"/><circle cx="761.3" cy="320.8" r="6.5"/><circle cx="754.8" cy="324.0" r="6.5"/><circle cx="745.1" cy="319.1" r="6.5"/><circle cx="750.0" cy="320.8" r="6.5"/><circle cx="767.8" cy="322.4" r="6.5"/><circle cx="774.3" cy="327.2" r="6.5"/><circle cx="780.8" cy="328.9" r="6.5"/><circle cx="787.2" cy="330.5" r="6.5"/><circle cx="795.3" cy="333.7" r="6.5"/><circle cx="801.8" cy="337.0" r="6.5"/><circle cx="808.3" cy="333.7" r="6.5"/><circle cx="814.8" cy="330.5" r="6.5"/><circle cx="821.3" cy="327.2" r="6.5"/><circle cx="827.8" cy="327.2" r="6.5"/><circle cx="829.4" cy="335.3" r="6.5"/><circle cx="822.9" cy="341.8" r="6.5"/><circle cx="816.4" cy="346.7" r="6.5"/><circle cx="809.9" cy="343.5" r="6.5"/><circle cx="803.5" cy="343.5" r="6.5"/><circle cx="797.0" cy="340.2" r="6.5"/><circle cx="790.5" cy="343.5" r="6.5"/><circle cx="784.0" cy="340.2" r="6.5"/><circle cx="777.5" cy="337.0" r="6.5"/><circle cx="771.0" cy="335.3" r="6.5"/><circle cx="764.6" cy="333.7" r="6.5"/><circle cx="758.1" cy="332.1" r="6.5"/><circle cx="751.6" cy="333.7" r="6.5"/><circle cx="745.1" cy="340.2" r="6.5"/><circle cx="751.6" cy="343.5" r="6.5"/><circle cx="758.1" cy="341.8" r="6.5"/><circle cx="764.6" cy="343.5" r="6.5"/><circle cx="771.0" cy="345.1" r="6.5"/><circle cx="777.5" cy="346.7" r="6.5"/><circle cx="784.0" cy="349.9" r="6.5"/><circle cx="790.5" cy="351.6" r="6.5"/><circle cx="797.0" cy="353.2" r="6.5"/><circle cx="787.2" cy="358.0" r="6.5"/><circle cx="780.8" cy="359.7" r="6.5"/><circle cx="774.3" cy="358.0" r="6.5"/><circle cx="767.8" cy="354.8" r="6.5"/><circle cx="761.3" cy="353.2" r="6.5"/><circle cx="754.8" cy="353.2" r="6.5"/><circle cx="748.3" cy="351.6" r="6.5"/><circle cx="743.5" cy="346.7" r="6.5"/><circle cx="839.1" cy="322.4" r="6.5"/><circle cx="767.8" cy="384.0" r="6.5"/><circle cx="761.3" cy="388.8" r="6.5"/><circle cx="754.8" cy="390.5" r="6.5"/><circle cx="774.3" cy="390.5" r="6.5"/><circle cx="767.8" cy="369.4" r="6.5"/><circle cx="761.3" cy="364.5" r="6.5"/><circle cx="754.8" cy="361.3" r="6.5"/><circle cx="748.3" cy="359.7" r="6.5"/><circle cx="743.5" cy="362.9" r="6.5"/><circle cx="738.6" cy="366.1" r="6.5"/><circle cx="774.3" cy="366.1" r="6.5"/><circle cx="780.8" cy="366.1" r="6.5"/><circle cx="787.2" cy="362.9" r="6.5"/><circle cx="728.9" cy="341.8" r="6.5"/><circle cx="725.7" cy="351.6" r="6.5"/><circle cx="732.1" cy="359.7" r="6.5"/><circle cx="699.7" cy="364.5" r="6.5"/><circle cx="711.1" cy="380.7" r="6.5"/><circle cx="717.6" cy="377.5" r="6.5"/><circle cx="722.4" cy="375.9" r="6.5"/><circle cx="730.5" cy="372.6" r="6.5"/><circle cx="737.0" cy="372.6" r="6.5"/><circle cx="728.9" cy="382.4" r="6.5"/><circle cx="722.4" cy="385.6" r="6.5"/><circle cx="738.6" cy="385.6" r="6.5"/><circle cx="745.1" cy="380.7" r="6.5"/><circle cx="751.6" cy="377.5" r="6.5"/><circle cx="758.1" cy="375.9" r="6.5"/><circle cx="764.6" cy="375.9" r="6.5"/><circle cx="746.7" cy="369.4" r="6.5"/><circle cx="707.8" cy="371.0" r="6.5"/><circle cx="699.7" cy="377.5" r="6.5"/></g>
<g fill="none" stroke="#2f5399" stroke-width="1.6"><circle cx="701.6" cy="343.0" r="6.5"/><circle cx="707.5" cy="347.9" r="6.5"/><circle cx="694.7" cy="350.9" r="6.5"/><circle cx="699.6" cy="366.7" r="6.5"/><circle cx="699.6" cy="376.6" r="6.5"/><circle cx="707.5" cy="370.7" r="6.5"/><circle cx="681.8" cy="392.5" r="6.5"/><circle cx="691.7" cy="390.5" r="6.5"/><circle cx="695.6" cy="396.4" r="6.5"/><circle cx="701.6" cy="392.5" r="6.5"/><circle cx="689.7" cy="402.4" r="6.5"/><circle cx="699.6" cy="404.4" r="6.5"/><circle cx="705.5" cy="398.4" r="6.5"/><circle cx="679.8" cy="414.3" r="6.5"/><circle cx="685.7" cy="418.2" r="6.5"/><circle cx="689.7" cy="424.2" r="6.5"/><circle cx="693.7" cy="412.3" r="6.5"/><circle cx="709.5" cy="394.5" r="6.5"/><circle cx="683.8" cy="408.3" r="6.5"/><circle cx="696.6" cy="382.6" r="6.5"/><circle cx="687.7" cy="396.4" r="6.5"/><circle cx="693.2" cy="400.2" r="6.5"/><circle cx="706.2" cy="403.4" r="6.5"/></g>
<g fill="none" stroke-width="1.6"><circle cx="694.8" cy="420.4" r="6.5" stroke="#dc2530"/><circle cx="768.8" cy="369.4" r="6.5" stroke="#782170"/><circle cx="738.6" cy="388.5" r="6.5" stroke="#782170"/><circle cx="716.4" cy="412.9" r="6.5" stroke="#dc2530"/><circle cx="756.3" cy="357.6" r="6.5" stroke="#782170"/><circle cx="741.3" cy="404.2" r="6.5" stroke="#dc2530"/><circle cx="712.6" cy="393.4" r="6.5" stroke="#782170"/><circle cx="711.0" cy="415.0" r="6.5" stroke="#dc2530"/><circle cx="767.6" cy="371.4" r="6.5" stroke="#782170"/><circle cx="754.6" cy="372.0" r="6.5" stroke="#782170"/><circle cx="731.4" cy="387.7" r="6.5" stroke="#782170"/><circle cx="744.5" cy="368.7" r="6.5" stroke="#782170"/><circle cx="734.8" cy="411.8" r="6.5" stroke="#dc2530"/><circle cx="724.0" cy="411.8" r="6.5" stroke="#dc2530"/><circle cx="734.7" cy="375.9" r="6.5" stroke="#782170"/><circle cx="700.2" cy="424.8" r="6.5" stroke="#dc2530"/><circle cx="750.2" cy="356.5" r="6.5" stroke="#782170"/><circle cx="705.6" cy="423.7" r="6.5" stroke="#dc2530"/><circle cx="759.6" cy="369.4" r="6.5" stroke="#782170"/><circle cx="727.5" cy="377.7" r="6.5" stroke="#782170"/><circle cx="715.2" cy="396.2" r="6.5" stroke="#782170"/><circle cx="765.2" cy="363.2" r="6.5" stroke="#782170"/><circle cx="755.3" cy="354.5" r="6.5" stroke="#782170"/><circle cx="745.6" cy="397.8" r="6.5" stroke="#dc2530"/><circle cx="718.3" cy="383.0" r="6.5" stroke="#782170"/><circle cx="689.4" cy="419.4" r="6.5" stroke="#dc2530"/><circle cx="718.6" cy="417.2" r="6.5" stroke="#dc2530"/><circle cx="705.6" cy="411.8" r="6.5" stroke="#dc2530"/><circle cx="724.7" cy="394.2" r="6.5" stroke="#782170"/><circle cx="707.8" cy="419.4" r="6.5" stroke="#dc2530"/><circle cx="702.4" cy="417.2" r="6.5" stroke="#dc2530"/><circle cx="739.1" cy="395.6" r="6.5" stroke="#dc2530"/><circle cx="697.0" cy="411.8" r="6.5" stroke="#dc2530"/><circle cx="726.2" cy="420.4" r="6.5" stroke="#dc2530"/><circle cx="727.8" cy="390.9" r="6.5" stroke="#782170"/><circle cx="715.4" cy="397.8" r="6.5" stroke="#dc2530"/><circle cx="730.5" cy="415.0" r="6.5" stroke="#dc2530"/><circle cx="730.9" cy="368.0" r="6.5" stroke="#782170"/><circle cx="729.7" cy="383.3" r="6.5" stroke="#782170"/><circle cx="754.5" cy="377.8" r="6.5" stroke="#782170"/><circle cx="740.0" cy="392.0" r="6.5" stroke="#782170"/><circle cx="759.8" cy="355.3" r="6.5" stroke="#782170"/><circle cx="756.4" cy="402.1" r="6.5" stroke="#dc2530"/><circle cx="761.3" cy="373.3" r="6.5" stroke="#782170"/><circle cx="753.3" cy="382.5" r="6.5" stroke="#782170"/><circle cx="753.7" cy="374.2" r="6.5" stroke="#782170"/><circle cx="741.9" cy="373.2" r="6.5" stroke="#782170"/><circle cx="721.8" cy="404.2" r="6.5" stroke="#dc2530"/><circle cx="715.6" cy="398.3" r="6.5" stroke="#782170"/><circle cx="708.9" cy="401.0" r="6.5" stroke="#dc2530"/><circle cx="701.3" cy="421.5" r="6.5" stroke="#dc2530"/><circle cx="698.1" cy="428.0" r="6.5" stroke="#dc2530"/><circle cx="730.2" cy="382.9" r="6.5" stroke="#782170"/><circle cx="732.1" cy="382.4" r="6.5" stroke="#782170"/><circle cx="713.2" cy="422.6" r="6.5" stroke="#dc2530"/></g>
<path d="M656 94V454H1033" fill="none" stroke="#4a4a4a" stroke-width="2.2"/>
<line x1="656.0" y1="454" x2="656.0" y2="449.5" stroke="#4a4a4a" stroke-width="2.2"/>
<line x1="656" y1="454.0" x2="660.5" y2="454.0" stroke="#4a4a4a" stroke-width="2.2"/>
<text x="655.5" y="499.7" font-size="33.5" fill="#4a4a4a" stroke="#4a4a4a" stroke-width="0.5" text-anchor="middle">0</text>
<text x="642" y="466.5" font-size="33.5" fill="#4a4a4a" stroke="#4a4a4a" stroke-width="0.5" text-anchor="end">0</text>
<line x1="823.6" y1="454" x2="823.6" y2="449.5" stroke="#4a4a4a" stroke-width="2.2"/>
<line x1="656" y1="294.0" x2="660.5" y2="294.0" stroke="#4a4a4a" stroke-width="2.2"/>
<text x="823.1" y="499.7" font-size="33.5" fill="#4a4a4a" stroke="#4a4a4a" stroke-width="0.5" text-anchor="middle">2</text>
<text x="642" y="306.5" font-size="33.5" fill="#4a4a4a" stroke="#4a4a4a" stroke-width="0.5" text-anchor="end">2</text>
<line x1="991.1" y1="454" x2="991.1" y2="449.5" stroke="#4a4a4a" stroke-width="2.2"/>
<line x1="656" y1="134.0" x2="660.5" y2="134.0" stroke="#4a4a4a" stroke-width="2.2"/>
<text x="990.6" y="499.7" font-size="33.5" fill="#4a4a4a" stroke="#4a4a4a" stroke-width="0.5" text-anchor="middle">4</text>
<text x="642" y="146.5" font-size="33.5" fill="#4a4a4a" stroke="#4a4a4a" stroke-width="0.5" text-anchor="end">4</text>
<text x="844.5" y="80.4" font-size="37" fill="#231f20" stroke="#231f20" stroke-width="0.5" text-anchor="middle">English speaker</text>
<text x="844.5" y="545.2" font-size="37" fill="#4a4a4a" stroke="#4a4a4a" stroke-width="0.5" text-anchor="middle">Spanish peak</text>
<text x="847.0" y="591" font-size="37" fill="#4a4a4a" stroke="#4a4a4a" stroke-width="0.5" text-anchor="middle" word-spacing="2">HFA (z)</text>
<text x="562" y="274.0" font-size="37" fill="#4a4a4a" stroke="#4a4a4a" stroke-width="0.5" text-anchor="middle" transform="rotate(-90 562 274.0)">English peak</text>
<text x="608" y="273.0" font-size="37" fill="#4a4a4a" stroke="#4a4a4a" stroke-width="0.5" text-anchor="middle" transform="rotate(-90 608 273.0)" word-spacing="2">HFA (z)</text>
<text x="698.5" y="148.7" font-size="38" fill="#231f20" stroke="#231f20" stroke-width="0.5" text-anchor="start">r=0.9,***</text>
<line x1="1349.6" y1="94" x2="1349.6" y2="454" stroke="#e4e4e4" stroke-width="1.6"/>
<line x1="1182" y1="294.0" x2="1559" y2="294.0" stroke="#e4e4e4" stroke-width="1.6"/>
<line x1="1517.1" y1="94" x2="1517.1" y2="454" stroke="#e4e4e4" stroke-width="1.6"/>
<line x1="1182" y1="134.0" x2="1559" y2="134.0" stroke="#e4e4e4" stroke-width="1.6"/>
<line x1="1182" y1="454" x2="1559" y2="94" stroke="#231f20" stroke-width="7.6"/>
<g fill="none" stroke-width="1.6"><circle cx="1245.4" cy="402.3" r="6.5" stroke="#2f5399"/><circle cx="1289.9" cy="354.8" r="6.5" stroke="#782170"/><circle cx="1265.2" cy="390.4" r="6.5" stroke="#2f5399"/><circle cx="1357.2" cy="279.1" r="6.5" stroke="#782170"/><circle cx="1366.8" cy="309.8" r="6.5" stroke="#782170"/><circle cx="1241.4" cy="390.4" r="6.5" stroke="#2f5399"/><circle cx="1337.0" cy="296.3" r="6.5" stroke="#782170"/><circle cx="1272.1" cy="411.2" r="6.5" stroke="#2f5399"/><circle cx="1248.3" cy="377.5" r="6.5" stroke="#782170"/><circle cx="1245.4" cy="410.2" r="6.5" stroke="#2f5399"/><circle cx="1269.1" cy="395.3" r="6.5" stroke="#2f5399"/><circle cx="1267.1" cy="404.3" r="6.5" stroke="#2f5399"/><circle cx="1370.1" cy="274.0" r="6.5" stroke="#782170"/><circle cx="1511.3" cy="172.5" r="6.5" stroke="#782170"/><circle cx="1285.0" cy="356.7" r="6.5" stroke="#782170"/><circle cx="1272.1" cy="402.3" r="6.5" stroke="#2f5399"/><circle cx="1325.6" cy="383.5" r="6.5" stroke="#782170"/><circle cx="1354.3" cy="349.8" r="6.5" stroke="#782170"/><circle cx="1334.5" cy="306.2" r="6.5" stroke="#782170"/><circle cx="1252.3" cy="425.0" r="6.5" stroke="#782170"/><circle cx="1439.4" cy="236.8" r="6.5" stroke="#782170"/><circle cx="1262.2" cy="354.8" r="6.5" stroke="#782170"/><circle cx="1284.0" cy="343.9" r="6.5" stroke="#782170"/><circle cx="1289.9" cy="328.6" r="6.5" stroke="#782170"/><circle cx="1238.4" cy="398.3" r="6.5" stroke="#2f5399"/><circle cx="1328.5" cy="308.2" r="6.5" stroke="#782170"/><circle cx="1310.7" cy="345.8" r="6.5" stroke="#782170"/><circle cx="1326.6" cy="367.6" r="6.5" stroke="#782170"/><circle cx="1251.3" cy="388.4" r="6.5" stroke="#2f5399"/><circle cx="1257.2" cy="402.3" r="6.5" stroke="#782170"/><circle cx="1281.0" cy="356.7" r="6.5" stroke="#782170"/><circle cx="1282.0" cy="383.5" r="6.5" stroke="#782170"/><circle cx="1253.3" cy="404.3" r="6.5" stroke="#2f5399"/><circle cx="1299.8" cy="358.7" r="6.5" stroke="#782170"/><circle cx="1251.3" cy="418.1" r="6.5" stroke="#2f5399"/><circle cx="1371.7" cy="251.8" r="6.5" stroke="#782170"/><circle cx="1243.4" cy="416.1" r="6.5" stroke="#2f5399"/><circle cx="1304.8" cy="317.1" r="6.5" stroke="#782170"/><circle cx="1269.1" cy="356.7" r="6.5" stroke="#782170"/><circle cx="1261.2" cy="367.6" r="6.5" stroke="#782170"/><circle cx="1249.3" cy="400.3" r="6.5" stroke="#782170"/><circle cx="1263.2" cy="425.0" r="6.5" stroke="#2f5399"/><circle cx="1261.2" cy="400.3" r="6.5" stroke="#2f5399"/><circle cx="1332.5" cy="309.2" r="6.5" stroke="#782170"/><circle cx="1285.0" cy="364.7" r="6.5" stroke="#782170"/><circle cx="1235.5" cy="412.2" r="6.5" stroke="#2f5399"/><circle cx="1266.2" cy="337.9" r="6.5" stroke="#782170"/><circle cx="1273.1" cy="371.6" r="6.5" stroke="#782170"/><circle cx="1263.2" cy="376.5" r="6.5" stroke="#782170"/><circle cx="1257.2" cy="409.2" r="6.5" stroke="#2f5399"/><circle cx="1281.0" cy="352.8" r="6.5" stroke="#782170"/><circle cx="1265.2" cy="395.3" r="6.5" stroke="#782170"/><circle cx="1307.7" cy="332.0" r="6.5" stroke="#782170"/><circle cx="1261.2" cy="415.1" r="6.5" stroke="#2f5399"/><circle cx="1250.3" cy="394.4" r="6.5" stroke="#2f5399"/><circle cx="1275.1" cy="415.1" r="6.5" stroke="#2f5399"/><circle cx="1241.4" cy="422.1" r="6.5" stroke="#2f5399"/><circle cx="1239.4" cy="407.2" r="6.5" stroke="#2f5399"/><circle cx="1249.3" cy="425.0" r="6.5" stroke="#2f5399"/><circle cx="1410.7" cy="240.4" r="6.5" stroke="#782170"/><circle cx="1282.0" cy="389.4" r="6.5" stroke="#782170"/><circle cx="1300.8" cy="390.8" r="6.5" stroke="#782170"/><circle cx="1298.8" cy="337.9" r="6.5" stroke="#782170"/><circle cx="1294.9" cy="340.9" r="6.5" stroke="#782170"/><circle cx="1284.0" cy="408.2" r="6.5" stroke="#2f5399"/><circle cx="1275.1" cy="364.7" r="6.5" stroke="#782170"/></g>
<g fill="none" stroke="#dc2530" stroke-width="1.6"><circle cx="1230.5" cy="387.8" r="6.5"/><circle cx="1217.6" cy="413.2" r="6.5"/><circle cx="1242.4" cy="394.4" r="6.5"/></g>
<path d="M1182 94V454H1559" fill="none" stroke="#4a4a4a" stroke-width="2.2"/>
<line x1="1182.0" y1="454" x2="1182.0" y2="449.5" stroke="#4a4a4a" stroke-width="2.2"/>
<line x1="1182" y1="454.0" x2="1186.5" y2="454.0" stroke="#4a4a4a" stroke-width="2.2"/>
<text x="1181.5" y="499.7" font-size="33.5" fill="#4a4a4a" stroke="#4a4a4a" stroke-width="0.5" text-anchor="middle">0</text>
<text x="1168" y="466.5" font-size="33.5" fill="#4a4a4a" stroke="#4a4a4a" stroke-width="0.5" text-anchor="end">0</text>
<line x1="1349.6" y1="454" x2="1349.6" y2="449.5" stroke="#4a4a4a" stroke-width="2.2"/>
<line x1="1182" y1="294.0" x2="1186.5" y2="294.0" stroke="#4a4a4a" stroke-width="2.2"/>
<text x="1349.1" y="499.7" font-size="33.5" fill="#4a4a4a" stroke="#4a4a4a" stroke-width="0.5" text-anchor="middle">2</text>
<text x="1168" y="306.5" font-size="33.5" fill="#4a4a4a" stroke="#4a4a4a" stroke-width="0.5" text-anchor="end">2</text>
<line x1="1517.1" y1="454" x2="1517.1" y2="449.5" stroke="#4a4a4a" stroke-width="2.2"/>
<line x1="1182" y1="134.0" x2="1186.5" y2="134.0" stroke="#4a4a4a" stroke-width="2.2"/>
<text x="1516.6" y="499.7" font-size="33.5" fill="#4a4a4a" stroke="#4a4a4a" stroke-width="0.5" text-anchor="middle">4</text>
<text x="1168" y="146.5" font-size="33.5" fill="#4a4a4a" stroke="#4a4a4a" stroke-width="0.5" text-anchor="end">4</text>
<text x="1370.5" y="80.4" font-size="37" fill="#231f20" stroke="#231f20" stroke-width="0.5" text-anchor="middle">Mandarin speaker</text>
<text x="1370.5" y="545.2" font-size="37" fill="#4a4a4a" stroke="#4a4a4a" stroke-width="0.5" text-anchor="middle">Mandarin peak</text>
<text x="1373.0" y="591" font-size="37" fill="#4a4a4a" stroke="#4a4a4a" stroke-width="0.5" text-anchor="middle" word-spacing="2">HFA (z)</text>
<text x="1088" y="274.0" font-size="37" fill="#4a4a4a" stroke="#4a4a4a" stroke-width="0.5" text-anchor="middle" transform="rotate(-90 1088 274.0)">English peak</text>
<text x="1134" y="273.0" font-size="37" fill="#4a4a4a" stroke="#4a4a4a" stroke-width="0.5" text-anchor="middle" transform="rotate(-90 1134 273.0)" word-spacing="2">HFA (z)</text>
<text x="1224.5" y="148.7" font-size="38" fill="#231f20" stroke="#231f20" stroke-width="0.5" text-anchor="start">r=0.9,***</text>
<rect x="198.1" y="711.1" width="68.4" height="302.9" fill="#84207b" stroke="rgba(0,0,0,0.3)" stroke-width="0.8"/>
<rect x="284.3" y="971.7" width="68.4" height="42.3" fill="#3459a6" stroke="rgba(0,0,0,0.3)" stroke-width="0.8"/>
<rect x="370.3" y="1000.5" width="68.4" height="13.5" fill="#e8242f" stroke="rgba(0,0,0,0.3)" stroke-width="0.8"/>
<path d="M130 654V1014H507" fill="none" stroke="#4a4a4a" stroke-width="2.2"/>
<line x1="130" y1="654" x2="134.5" y2="654" stroke="#4a4a4a" stroke-width="2.2"/>
<line x1="232.3" y1="1014" x2="232.3" y2="1009.5" stroke="#4a4a4a" stroke-width="2.2"/>
<line x1="318.5" y1="1014" x2="318.5" y2="1009.5" stroke="#4a4a4a" stroke-width="2.2"/>
<line x1="404.5" y1="1014" x2="404.5" y2="1009.5" stroke="#4a4a4a" stroke-width="2.2"/>
<text x="116" y="666.5" font-size="33.5" fill="#4a4a4a" stroke="#4a4a4a" stroke-width="0.5" text-anchor="end">1</text>
<text x="116" y="1026.5" font-size="33.5" fill="#4a4a4a" stroke="#4a4a4a" stroke-width="0.5" text-anchor="end">0</text>
<text x="82" y="834.0" font-size="37" fill="#4a4a4a" stroke="#4a4a4a" stroke-width="0.5" text-anchor="middle" transform="rotate(-90 82 834.0)">Proportion</text>
<text x="247.3" y="1058.0" font-size="33.5" fill="#4a4a4a" stroke="#4a4a4a" stroke-width="0.5" text-anchor="end" transform="rotate(-30 247.3 1058.0)">Both</text>
<text x="333.5" y="1058.0" font-size="33.5" fill="#4a4a4a" stroke="#4a4a4a" stroke-width="0.5" text-anchor="end" transform="rotate(-30 333.5 1058.0)">Native</text>
<text x="419.5" y="1058.0" font-size="33.5" fill="#4a4a4a" stroke="#4a4a4a" stroke-width="0.5" text-anchor="end" transform="rotate(-30 419.5 1058.0)">Foreign</text>
<rect x="724.1" y="734.1" width="68.4" height="279.9" fill="#84207b" stroke="rgba(0,0,0,0.3)" stroke-width="0.8"/>
<rect x="810.3" y="981.1" width="68.4" height="32.9" fill="#3459a6" stroke="rgba(0,0,0,0.3)" stroke-width="0.8"/>
<rect x="896.3" y="970.3" width="68.4" height="43.7" fill="#e8242f" stroke="rgba(0,0,0,0.3)" stroke-width="0.8"/>
<path d="M656 654V1014H1033" fill="none" stroke="#4a4a4a" stroke-width="2.2"/>
<line x1="656" y1="654" x2="660.5" y2="654" stroke="#4a4a4a" stroke-width="2.2"/>
<line x1="758.3" y1="1014" x2="758.3" y2="1009.5" stroke="#4a4a4a" stroke-width="2.2"/>
<line x1="844.5" y1="1014" x2="844.5" y2="1009.5" stroke="#4a4a4a" stroke-width="2.2"/>
<line x1="930.5" y1="1014" x2="930.5" y2="1009.5" stroke="#4a4a4a" stroke-width="2.2"/>
<text x="642" y="666.5" font-size="33.5" fill="#4a4a4a" stroke="#4a4a4a" stroke-width="0.5" text-anchor="end">1</text>
<text x="642" y="1026.5" font-size="33.5" fill="#4a4a4a" stroke="#4a4a4a" stroke-width="0.5" text-anchor="end">0</text>
<text x="608" y="834.0" font-size="37" fill="#4a4a4a" stroke="#4a4a4a" stroke-width="0.5" text-anchor="middle" transform="rotate(-90 608 834.0)">Proportion</text>
<text x="773.3" y="1058.0" font-size="33.5" fill="#4a4a4a" stroke="#4a4a4a" stroke-width="0.5" text-anchor="end" transform="rotate(-30 773.3 1058.0)">Both</text>
<text x="859.5" y="1058.0" font-size="33.5" fill="#4a4a4a" stroke="#4a4a4a" stroke-width="0.5" text-anchor="end" transform="rotate(-30 859.5 1058.0)">Native</text>
<text x="945.5" y="1058.0" font-size="33.5" fill="#4a4a4a" stroke="#4a4a4a" stroke-width="0.5" text-anchor="end" transform="rotate(-30 945.5 1058.0)">Foreign</text>
<rect x="1250.1" y="790.3" width="68.4" height="223.7" fill="#84207b" stroke="rgba(0,0,0,0.3)" stroke-width="0.8"/>
<rect x="1336.3" y="898.3" width="68.4" height="115.7" fill="#3459a6" stroke="rgba(0,0,0,0.3)" stroke-width="0.8"/>
<rect x="1422.3" y="996.6" width="68.4" height="17.4" fill="#e8242f" stroke="rgba(0,0,0,0.3)" stroke-width="0.8"/>
<path d="M1182 654V1014H1559" fill="none" stroke="#4a4a4a" stroke-width="2.2"/>
<line x1="1182" y1="654" x2="1186.5" y2="654" stroke="#4a4a4a" stroke-width="2.2"/>
<line x1="1284.3" y1="1014" x2="1284.3" y2="1009.5" stroke="#4a4a4a" stroke-width="2.2"/>
<line x1="1370.5" y1="1014" x2="1370.5" y2="1009.5" stroke="#4a4a4a" stroke-width="2.2"/>
<line x1="1456.5" y1="1014" x2="1456.5" y2="1009.5" stroke="#4a4a4a" stroke-width="2.2"/>
<text x="1168" y="666.5" font-size="33.5" fill="#4a4a4a" stroke="#4a4a4a" stroke-width="0.5" text-anchor="end">1</text>
<text x="1168" y="1026.5" font-size="33.5" fill="#4a4a4a" stroke="#4a4a4a" stroke-width="0.5" text-anchor="end">0</text>
<text x="1134" y="834.0" font-size="37" fill="#4a4a4a" stroke="#4a4a4a" stroke-width="0.5" text-anchor="middle" transform="rotate(-90 1134 834.0)">Proportion</text>
<text x="1299.3" y="1058.0" font-size="33.5" fill="#4a4a4a" stroke="#4a4a4a" stroke-width="0.5" text-anchor="end" transform="rotate(-30 1299.3 1058.0)">Both</text>
<text x="1385.5" y="1058.0" font-size="33.5" fill="#4a4a4a" stroke="#4a4a4a" stroke-width="0.5" text-anchor="end" transform="rotate(-30 1385.5 1058.0)">Native</text>
<text x="1471.5" y="1058.0" font-size="33.5" fill="#4a4a4a" stroke="#4a4a4a" stroke-width="0.5" text-anchor="end" transform="rotate(-30 1471.5 1058.0)">Foreign</text>
<path d="M1682 93V1057.5H2168" fill="none" stroke="#4a4a4a" stroke-width="2.2"/>
<line x1="1682" y1="192.5" x2="1692" y2="192.5" stroke="#4a4a4a" stroke-width="2.2"/>
<text x="1668" y="204.7" font-size="33.5" fill="#4a4a4a" stroke="#4a4a4a" stroke-width="0.5" text-anchor="end">4</text>
<line x1="1682" y1="648" x2="1692" y2="648" stroke="#4a4a4a" stroke-width="2.2"/>
<text x="1668" y="660.2" font-size="33.5" fill="#4a4a4a" stroke="#4a4a4a" stroke-width="0.5" text-anchor="end">2</text>
<text x="1634" y="574" font-size="37" fill="#4a4a4a" stroke="#4a4a4a" stroke-width="0.5" text-anchor="middle" transform="rotate(-90 1634 574)" word-spacing="1.5">HFA peak (z)</text>
<line x1="1762.5" y1="1057.5" x2="1762.5" y2="1047.5" stroke="#4a4a4a" stroke-width="2.2"/>
<text x="1761.5" y="1104.5" font-size="34.8" fill="#4a4a4a" stroke="#4a4a4a" stroke-width="0.5" text-anchor="middle">Both</text>
<line x1="1924.2" y1="1057.5" x2="1924.2" y2="1047.5" stroke="#4a4a4a" stroke-width="2.2"/>
<text x="1923.2" y="1104.5" font-size="34.8" fill="#4a4a4a" stroke="#4a4a4a" stroke-width="0.5" text-anchor="middle">Native</text>
<line x1="2086.4" y1="1057.5" x2="2086.4" y2="1047.5" stroke="#4a4a4a" stroke-width="2.2"/>
<text x="2085.4" y="1104.5" font-size="34.8" fill="#4a4a4a" stroke="#4a4a4a" stroke-width="0.5" text-anchor="middle">Foreign</text>
<text x="1920" y="80" font-size="37" fill="#231f20" stroke="#231f20" stroke-width="0.5" text-anchor="middle">Across participants</text>
<g stroke="#84207b" stroke-width="2" fill="none">
<line x1="1762.5" y1="648" x2="1762.5" y2="292.4" stroke-dasharray="37.8 23"/>
<line x1="1762.5" y1="1010.8" x2="1762.5" y2="887.4" stroke-dasharray="37.8 23"/>
<line x1="1744.5" y1="292.4" x2="1780.5" y2="292.4"/>
<line x1="1744.5" y1="1010.8" x2="1780.5" y2="1010.8"/>
<rect x="1725.75" y="648" width="73.5" height="239.39999999999998" fill="#bba6c8"/>
<line x1="1725.75" y1="795" x2="1799.25" y2="795"/>
</g>
<g stroke="#3459a6" stroke-width="2" fill="none">
<line x1="1924.2" y1="933.3" x2="1924.2" y2="875.3" stroke-dasharray="37.8 23"/>
<line x1="1924.2" y1="1014" x2="1924.2" y2="980.9" stroke-dasharray="37.8 23"/>
<line x1="1906.2" y1="875.3" x2="1942.2" y2="875.3"/>
<line x1="1906.2" y1="1014" x2="1942.2" y2="1014"/>
<rect x="1887.45" y="933.3" width="73.5" height="47.60000000000002" fill="#a9c8e7"/>
<line x1="1887.45" y1="965.9" x2="1960.95" y2="965.9"/>
</g>
<g stroke="#e8242f" stroke-width="2" fill="none">
<line x1="2086.4" y1="945.4" x2="2086.4" y2="893.7" stroke-dasharray="37.8 23"/>
<line x1="2086.4" y1="1006.7" x2="2086.4" y2="984.8" stroke-dasharray="37.8 23"/>
<line x1="2068.4" y1="893.7" x2="2104.4" y2="893.7"/>
<line x1="2068.4" y1="1006.7" x2="2104.4" y2="1006.7"/>
<rect x="2049.65" y="945.4" width="73.5" height="39.39999999999998" fill="#f1bcc6"/>
<line x1="2049.65" y1="975.1" x2="2123.15" y2="975.1"/>
</g>
<g fill="none" stroke="#84207b" stroke-width="1.6">
<circle cx="1762.5" cy="138.4" r="7.5"/>
<circle cx="1762.5" cy="214" r="7.5"/>
<circle cx="1762.5" cy="217" r="7.5"/>
<circle cx="1762.5" cy="228.6" r="7.5"/>
<circle cx="1762.5" cy="240" r="7.5"/>
<circle cx="1762.5" cy="247" r="7.5"/>
<circle cx="1762.5" cy="255" r="7.5"/>
<circle cx="1762.5" cy="259" r="7.5"/>
<circle cx="1762.5" cy="263" r="7.5"/>
</g>
<g stroke="#231f20" stroke-width="4">
<line x1="1762" y1="166" x2="1908" y2="166"/>
<line x1="1762" y1="239" x2="2078" y2="239"/>
<line x1="1932" y1="843" x2="2077" y2="843"/>
</g>
<text x="1797.5" y="155" font-size="46" font-weight="bold" letter-spacing="5.3" fill="#231f20">***</text>
<text x="1908.5" y="230.5" font-size="46" font-weight="bold" letter-spacing="5.3" fill="#231f20">***</text>
<text x="2001.3" y="826.7" font-size="41" fill="#231f20" stroke="#231f20" stroke-width="0.5" text-anchor="middle" textLength="69" lengthAdjust="spacingAndGlyphs">n.s.</text>
<text font-size="67" font-weight="bold" fill="#231f20" transform="translate(-1.5 45.7)">A</text>
<text font-size="67" font-weight="bold" fill="#231f20" transform="translate(0.6 633.9) scale(0.91 1)">B</text>
<text font-size="67" font-weight="bold" fill="#231f20" transform="translate(1606.5 45.5) scale(0.9 1)">C</text>
</svg>
</body></html>
